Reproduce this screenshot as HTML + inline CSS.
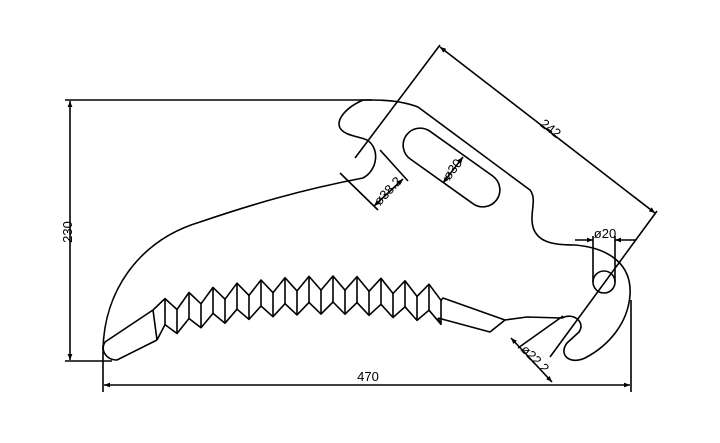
<!DOCTYPE html>
<html><head><style>body{margin:0;background:#fff}svg{display:block}</style></head>
<body>
<svg width="720" height="443" viewBox="0 0 720 443" xmlns="http://www.w3.org/2000/svg">
<defs>
<marker id="a" viewBox="0 0 10 10" refX="10" refY="5" markerWidth="9" markerHeight="6" orient="auto-start-reverse" markerUnits="userSpaceOnUse"><path d="M0,1 L10,5 L0,9 z" fill="#000"/></marker>
</defs>
<g fill="none" stroke="#000" stroke-width="1.6" stroke-linejoin="round">
<!-- dimension extension lines -->
<line x1="65" y1="100" x2="372" y2="100"/>
<line x1="65" y1="361" x2="112" y2="361"/>
<line x1="103" y1="345" x2="103" y2="392"/>
<line x1="631" y1="300" x2="631" y2="392"/>
<line x1="70" y1="101" x2="70" y2="360" marker-start="url(#a)" marker-end="url(#a)"/>
<line x1="104" y1="385" x2="630" y2="385" marker-start="url(#a)" marker-end="url(#a)"/>
<!-- 242 -->
<line x1="355" y1="158" x2="440" y2="45"/>
<line x1="657" y1="211" x2="550" y2="357"/>
<line x1="440" y1="47" x2="655" y2="213" marker-start="url(#a)" marker-end="url(#a)"/>
<!-- 38.2 -->
<line x1="340" y1="173" x2="378" y2="210"/>
<line x1="380" y1="150" x2="408" y2="181"/>
<line x1="374" y1="206" x2="403" y2="179" marker-start="url(#a)" marker-end="url(#a)"/>
<!-- outline -->
<path d="M103,350 C104,290 140,240 200,222 C250,205 300,190 363,178 C378,170 380,148 367,140 C358,136 345,136 340,128 C336,120 345,108 363,100 L372,100 C390,100 405,102 418,107 L530,190 C538,200 528,215 534,230 C540,243 555,245 575,245 C610,248 632,265 630,295 C628,322 610,345 585,358 C570,365 558,355 567,343 L579,332 C586,322 573,312 562,318 L527,317 L505,320 L490,332 L438,318"/>
<!-- left tip -->
<path d="M153,310 L105,342 C100,350 106,360 117,360 L157,340"/>
<!-- serration top -->
<path d="M153,310 L165,298.6 L177,309.5 L189,292.5 L201,303.8 L213,287.4 L225,299.2 L237,283.2 L249,295.4 L261,280 L273,292.7 L285,277.7 L297,290.9 L309,276.4 L321,290.1 L333,276 L345,290.2 L357,276.6 L369,291.3 L381,278.3 L393,293.5 L405,280.8 L417,296.4 L429,284.2 L441,300.3 L443,298 L505,320"/>
<path d="M157,340 L165,324.6 L177,333.5 L189,318.5 L201,327.8 L213,313.4 L225,323.2 L237,309.2 L249,319.4 L261,306 L273,316.7 L285,303.7 L297,314.9 L309,302.4 L321,314.1 L333,302 L345,314.2 L357,302.6 L369,315.3 L381,304.3 L393,317.5 L405,306.8 L417,320.4 L429,310.2 L441,324.3 L438,318"/>
<path d="M153,310 L157,340 M165,298.6 L165,324.6 M177,309.5 L177,333.5 M189,292.5 L189,318.5 M201,303.8 L201,327.8 M213,287.4 L213,313.4 M225,299.2 L225,323.2 M237,283.2 L237,309.2 M249,295.4 L249,319.4 M261,280 L261,306 M273,292.7 L273,316.7 M285,277.7 L285,303.7 M297,290.9 L297,314.9 M309,276.4 L309,302.4 M321,290.1 L321,314.1 M333,276 L333,302 M345,290.2 L345,314.2 M357,276.6 L357,302.6 M369,291.3 L369,315.3 M381,278.3 L381,304.3 M393,293.5 L393,317.5 M405,280.8 L405,306.8 M417,296.4 L417,320.4 M429,284.2 L429,310.2 M441,300.3 L441,324.3"/>
<!-- slot -->
<rect x="396" y="150.5" width="111" height="34" rx="17" transform="rotate(35.5 451.5 167.5)"/>
<line x1="443" y1="183" x2="463" y2="157" marker-start="url(#a)" marker-end="url(#a)"/>
<!-- Ø20 -->
<circle cx="604" cy="282" r="11"/>
<line x1="593" y1="236" x2="593" y2="282"/>
<line x1="615" y1="236" x2="615" y2="282"/>
<line x1="575" y1="240" x2="593" y2="240" marker-end="url(#a)"/>
<line x1="636" y1="240" x2="615" y2="240" marker-end="url(#a)"/>
<!-- Ø22.2 -->
<line x1="563" y1="316" x2="518" y2="348"/>
<line x1="511" y1="338" x2="552" y2="382" marker-start="url(#a)" marker-end="url(#a)"/>
</g>
<g font-family="Liberation Sans, sans-serif" font-size="13" fill="#000">
<text x="72" y="232" transform="rotate(-90 72 232)" text-anchor="middle">230</text>
<text x="368" y="381" text-anchor="middle">470</text>
<text x="548" y="132" transform="rotate(37.7 548 132)" text-anchor="middle">242</text>
<text x="391" y="194" transform="rotate(-47 391 194)" text-anchor="middle">ø38.2</text>
<text x="456" y="172" transform="rotate(-53 456 172)" text-anchor="middle">ø30</text>
<text x="605" y="238" text-anchor="middle">ø20</text>
<text x="532" y="362" transform="rotate(45 532 362)" text-anchor="middle">ø22.2</text>
</g>
</svg>
</body></html>
